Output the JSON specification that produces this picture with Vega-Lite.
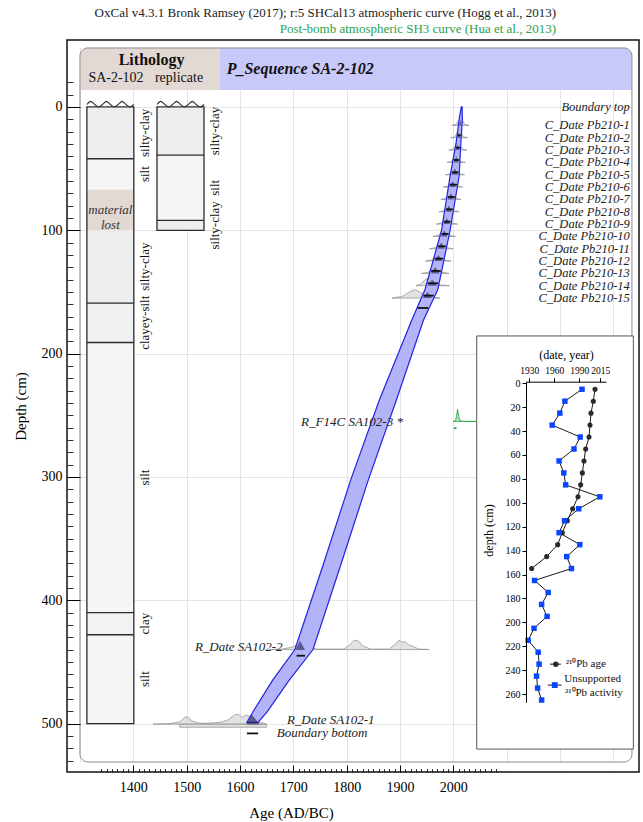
{
"$schema":"https://vega.github.io/schema/vega-lite/v6.json",
"width":572,"height":732,
"autosize":{"type":"none"},
"padding":{"left":67,"top":40,"right":4,"bottom":50},
"background":"white",
"title":{"text":"OxCal v4.3.1 Bronk Ramsey (2017); r:5 SHCal13 atmospheric curve (Hogg et al., 2013)","subtitle":"Post-bomb atmospheric SH3 curve (Hua et al., 2013)","anchor":"end","frame":"group","dx":-83,"offset":3,"font":"Liberation Serif","fontSize":13,"fontWeight":"normal","color":"#222222","subtitleFont":"Liberation Serif","subtitleFontSize":13,"subtitleColor":"#2ca24a","subtitlePadding":3},
"datasets":{
"litho":[
{"core":"SA-2-102","top":0,"bottom":42,"type":"silty-clay","contact":false},
{"core":"SA-2-102","top":42,"bottom":67,"type":"silt","contact":true},
{"core":"SA-2-102","top":67,"bottom":100,"type":"material lost","contact":false},
{"core":"SA-2-102","top":100,"bottom":159,"type":"silty-clay","contact":false},
{"core":"SA-2-102","top":159,"bottom":191,"type":"clayey-silt","contact":true},
{"core":"SA-2-102","top":191,"bottom":410,"type":"silt","contact":true},
{"core":"SA-2-102","top":410,"bottom":428,"type":"clay","contact":true},
{"core":"SA-2-102","top":428,"bottom":500,"type":"silt","contact":true},
{"core":"replicate","top":0,"bottom":39,"type":"silty-clay","contact":false},
{"core":"replicate","top":39,"bottom":92,"type":"silt","contact":true},
{"core":"replicate","top":92,"bottom":100,"type":"silty-clay","contact":true}
],
"wave":[
{"core":"SA-2-102","yr":1313,"d":-2},{"core":"SA-2-102","yr":1320.3,"d":-4.5},{"core":"SA-2-102","yr":1327.7,"d":-2},{"core":"SA-2-102","yr":1335,"d":0},{"core":"SA-2-102","yr":1342.3,"d":-2},{"core":"SA-2-102","yr":1349.7,"d":-4.5},{"core":"SA-2-102","yr":1357,"d":-2},{"core":"SA-2-102","yr":1364.3,"d":0},{"core":"SA-2-102","yr":1371.7,"d":-2},{"core":"SA-2-102","yr":1379,"d":-4.5},{"core":"SA-2-102","yr":1386.3,"d":-2},{"core":"SA-2-102","yr":1393.7,"d":0},{"core":"SA-2-102","yr":1401,"d":-2},
{"core":"replicate","yr":1444.4,"d":-2},{"core":"replicate","yr":1451.7,"d":-4.5},{"core":"replicate","yr":1459.1,"d":-2},{"core":"replicate","yr":1466.4,"d":0},{"core":"replicate","yr":1473.8,"d":-2},{"core":"replicate","yr":1481.1,"d":-4.5},{"core":"replicate","yr":1488.5,"d":-2},{"core":"replicate","yr":1495.8,"d":0},{"core":"replicate","yr":1503.2,"d":-2},{"core":"replicate","yr":1510.5,"d":-4.5},{"core":"replicate","yr":1517.9,"d":-2},{"core":"replicate","yr":1525.2,"d":0},{"core":"replicate","yr":1532.6,"d":-2}
],
"band":[
{"d":0,"lo":2015,"hi":2016.5},{"d":10,"lo":2011,"hi":2017},{"d":30,"lo":2005,"hi":2014},{"d":56,"lo":1994,"hi":2011},{"d":100,"lo":1978,"hi":1994},{"d":148,"lo":1947,"hi":1971},{"d":160,"lo":1935,"hi":1958},{"d":173,"lo":1922,"hi":1944},{"d":238,"lo":1861,"hi":1893},{"d":302,"lo":1808,"hi":1841},{"d":370,"lo":1757,"hi":1790},{"d":440,"lo":1703,"hi":1737},{"d":465,"lo":1661,"hi":1692},{"d":490,"lo":1625,"hi":1652},{"d":499,"lo":1613,"hi":1634}
],
"dists":[
{"id":"Pb210-1","kind":"prior","calib":"SHCal13","yr":1997.5,"top":15,"base":15},{"id":"Pb210-1","kind":"prior","calib":"SHCal13","yr":2005.5,"top":14.1,"base":15},{"id":"Pb210-1","kind":"prior","calib":"SHCal13","yr":2010.3,"top":10.5,"base":15},{"id":"Pb210-1","kind":"prior","calib":"SHCal13","yr":2013.5,"top":9,"base":15},{"id":"Pb210-1","kind":"prior","calib":"SHCal13","yr":2016.7,"top":10.5,"base":15},{"id":"Pb210-1","kind":"prior","calib":"SHCal13","yr":2021.5,"top":14.1,"base":15},{"id":"Pb210-1","kind":"prior","calib":"SHCal13","yr":2029.5,"top":15,"base":15},
{"id":"Pb210-2","kind":"prior","calib":"SHCal13","yr":1995,"top":25,"base":25},{"id":"Pb210-2","kind":"prior","calib":"SHCal13","yr":2003,"top":24.1,"base":25},{"id":"Pb210-2","kind":"prior","calib":"SHCal13","yr":2007.8,"top":20.5,"base":25},{"id":"Pb210-2","kind":"prior","calib":"SHCal13","yr":2011,"top":19,"base":25},{"id":"Pb210-2","kind":"prior","calib":"SHCal13","yr":2014.2,"top":20.5,"base":25},{"id":"Pb210-2","kind":"prior","calib":"SHCal13","yr":2019,"top":24.1,"base":25},{"id":"Pb210-2","kind":"prior","calib":"SHCal13","yr":2027,"top":25,"base":25},
{"id":"Pb210-3","kind":"prior","calib":"SHCal13","yr":1991.5,"top":35,"base":35},{"id":"Pb210-3","kind":"prior","calib":"SHCal13","yr":2000,"top":34.1,"base":35},{"id":"Pb210-3","kind":"prior","calib":"SHCal13","yr":2005.1,"top":30.5,"base":35},{"id":"Pb210-3","kind":"prior","calib":"SHCal13","yr":2008.5,"top":29,"base":35},{"id":"Pb210-3","kind":"prior","calib":"SHCal13","yr":2011.9,"top":30.5,"base":35},{"id":"Pb210-3","kind":"prior","calib":"SHCal13","yr":2017,"top":34.1,"base":35},{"id":"Pb210-3","kind":"prior","calib":"SHCal13","yr":2025.5,"top":35,"base":35},
{"id":"Pb210-4","kind":"prior","calib":"SHCal13","yr":1988.5,"top":45,"base":45},{"id":"Pb210-4","kind":"prior","calib":"SHCal13","yr":1997,"top":44.1,"base":45},{"id":"Pb210-4","kind":"prior","calib":"SHCal13","yr":2002.1,"top":40.5,"base":45},{"id":"Pb210-4","kind":"prior","calib":"SHCal13","yr":2005.5,"top":39,"base":45},{"id":"Pb210-4","kind":"prior","calib":"SHCal13","yr":2008.9,"top":40.5,"base":45},{"id":"Pb210-4","kind":"prior","calib":"SHCal13","yr":2014,"top":44.1,"base":45},{"id":"Pb210-4","kind":"prior","calib":"SHCal13","yr":2022.5,"top":45,"base":45},
{"id":"Pb210-5","kind":"prior","calib":"SHCal13","yr":1985,"top":55,"base":55},{"id":"Pb210-5","kind":"prior","calib":"SHCal13","yr":1994,"top":54.1,"base":55},{"id":"Pb210-5","kind":"prior","calib":"SHCal13","yr":1999.4,"top":50.5,"base":55},{"id":"Pb210-5","kind":"prior","calib":"SHCal13","yr":2003,"top":49,"base":55},{"id":"Pb210-5","kind":"prior","calib":"SHCal13","yr":2006.6,"top":50.5,"base":55},{"id":"Pb210-5","kind":"prior","calib":"SHCal13","yr":2012,"top":54.1,"base":55},{"id":"Pb210-5","kind":"prior","calib":"SHCal13","yr":2021,"top":55,"base":55},
{"id":"Pb210-6","kind":"prior","calib":"SHCal13","yr":1981.5,"top":65,"base":65},{"id":"Pb210-6","kind":"prior","calib":"SHCal13","yr":1990.5,"top":64.1,"base":65},{"id":"Pb210-6","kind":"prior","calib":"SHCal13","yr":1995.9,"top":60.5,"base":65},{"id":"Pb210-6","kind":"prior","calib":"SHCal13","yr":1999.5,"top":59,"base":65},{"id":"Pb210-6","kind":"prior","calib":"SHCal13","yr":2003.1,"top":60.5,"base":65},{"id":"Pb210-6","kind":"prior","calib":"SHCal13","yr":2008.5,"top":64.1,"base":65},{"id":"Pb210-6","kind":"prior","calib":"SHCal13","yr":2017.5,"top":65,"base":65},
{"id":"Pb210-7","kind":"prior","calib":"SHCal13","yr":1976.5,"top":75,"base":75},{"id":"Pb210-7","kind":"prior","calib":"SHCal13","yr":1986,"top":74.1,"base":75},{"id":"Pb210-7","kind":"prior","calib":"SHCal13","yr":1991.7,"top":70.5,"base":75},{"id":"Pb210-7","kind":"prior","calib":"SHCal13","yr":1995.5,"top":69,"base":75},{"id":"Pb210-7","kind":"prior","calib":"SHCal13","yr":1999.3,"top":70.5,"base":75},{"id":"Pb210-7","kind":"prior","calib":"SHCal13","yr":2005,"top":74.1,"base":75},{"id":"Pb210-7","kind":"prior","calib":"SHCal13","yr":2014.5,"top":75,"base":75},
{"id":"Pb210-8","kind":"prior","calib":"SHCal13","yr":1973,"top":85,"base":85},{"id":"Pb210-8","kind":"prior","calib":"SHCal13","yr":1982.5,"top":84.1,"base":85},{"id":"Pb210-8","kind":"prior","calib":"SHCal13","yr":1988.2,"top":80.5,"base":85},{"id":"Pb210-8","kind":"prior","calib":"SHCal13","yr":1992,"top":79,"base":85},{"id":"Pb210-8","kind":"prior","calib":"SHCal13","yr":1995.8,"top":80.5,"base":85},{"id":"Pb210-8","kind":"prior","calib":"SHCal13","yr":2001.5,"top":84.1,"base":85},{"id":"Pb210-8","kind":"prior","calib":"SHCal13","yr":2011,"top":85,"base":85},
{"id":"Pb210-9","kind":"prior","calib":"SHCal13","yr":1968,"top":95,"base":95},{"id":"Pb210-9","kind":"prior","calib":"SHCal13","yr":1978,"top":94.1,"base":95},{"id":"Pb210-9","kind":"prior","calib":"SHCal13","yr":1984,"top":90.5,"base":95},{"id":"Pb210-9","kind":"prior","calib":"SHCal13","yr":1988,"top":89,"base":95},{"id":"Pb210-9","kind":"prior","calib":"SHCal13","yr":1992,"top":90.5,"base":95},{"id":"Pb210-9","kind":"prior","calib":"SHCal13","yr":1998,"top":94.1,"base":95},{"id":"Pb210-9","kind":"prior","calib":"SHCal13","yr":2008,"top":95,"base":95},
{"id":"Pb210-10","kind":"prior","calib":"SHCal13","yr":1962,"top":105,"base":105},{"id":"Pb210-10","kind":"prior","calib":"SHCal13","yr":1972.5,"top":104.1,"base":105},{"id":"Pb210-10","kind":"prior","calib":"SHCal13","yr":1978.8,"top":100.5,"base":105},{"id":"Pb210-10","kind":"prior","calib":"SHCal13","yr":1983,"top":99,"base":105},{"id":"Pb210-10","kind":"prior","calib":"SHCal13","yr":1987.2,"top":100.5,"base":105},{"id":"Pb210-10","kind":"prior","calib":"SHCal13","yr":1993.5,"top":104.1,"base":105},{"id":"Pb210-10","kind":"prior","calib":"SHCal13","yr":2004,"top":105,"base":105},
{"id":"Pb210-11","kind":"prior","calib":"SHCal13","yr":1955.5,"top":115,"base":115},{"id":"Pb210-11","kind":"prior","calib":"SHCal13","yr":1966.5,"top":114.1,"base":115},{"id":"Pb210-11","kind":"prior","calib":"SHCal13","yr":1973.1,"top":110.5,"base":115},{"id":"Pb210-11","kind":"prior","calib":"SHCal13","yr":1977.5,"top":109,"base":115},{"id":"Pb210-11","kind":"prior","calib":"SHCal13","yr":1981.9,"top":110.5,"base":115},{"id":"Pb210-11","kind":"prior","calib":"SHCal13","yr":1988.5,"top":114.1,"base":115},{"id":"Pb210-11","kind":"prior","calib":"SHCal13","yr":1999.5,"top":115,"base":115},
{"id":"Pb210-12","kind":"prior","calib":"SHCal13","yr":1948,"top":125,"base":125},{"id":"Pb210-12","kind":"prior","calib":"SHCal13","yr":1960,"top":124.1,"base":125},{"id":"Pb210-12","kind":"prior","calib":"SHCal13","yr":1967.2,"top":120.5,"base":125},{"id":"Pb210-12","kind":"prior","calib":"SHCal13","yr":1972,"top":119,"base":125},{"id":"Pb210-12","kind":"prior","calib":"SHCal13","yr":1976.8,"top":120.5,"base":125},{"id":"Pb210-12","kind":"prior","calib":"SHCal13","yr":1984,"top":124.1,"base":125},{"id":"Pb210-12","kind":"prior","calib":"SHCal13","yr":1996,"top":125,"base":125},
{"id":"Pb210-13","kind":"prior","calib":"SHCal13","yr":1940,"top":135,"base":135},{"id":"Pb210-13","kind":"prior","calib":"SHCal13","yr":1953,"top":134.1,"base":135},{"id":"Pb210-13","kind":"prior","calib":"SHCal13","yr":1960.8,"top":130.5,"base":135},{"id":"Pb210-13","kind":"prior","calib":"SHCal13","yr":1966,"top":129,"base":135},{"id":"Pb210-13","kind":"prior","calib":"SHCal13","yr":1971.2,"top":130.5,"base":135},{"id":"Pb210-13","kind":"prior","calib":"SHCal13","yr":1979,"top":134.1,"base":135},{"id":"Pb210-13","kind":"prior","calib":"SHCal13","yr":1992,"top":135,"base":135},
{"id":"Pb210-14","kind":"prior","calib":"SHCal13","yr":1930,"top":145,"base":145},{"id":"Pb210-14","kind":"prior","calib":"SHCal13","yr":1940,"top":143.5,"base":145},{"id":"Pb210-14","kind":"prior","calib":"SHCal13","yr":1947,"top":140,"base":145},{"id":"Pb210-14","kind":"prior","calib":"SHCal13","yr":1952,"top":139,"base":145},{"id":"Pb210-14","kind":"prior","calib":"SHCal13","yr":1958,"top":141,"base":145},{"id":"Pb210-14","kind":"prior","calib":"SHCal13","yr":1968,"top":144,"base":145},{"id":"Pb210-14","kind":"prior","calib":"SHCal13","yr":1993,"top":145,"base":145},
{"id":"Pb210-15","kind":"prior","calib":"SHCal13","yr":1885,"top":155,"base":155},{"id":"Pb210-15","kind":"prior","calib":"SHCal13","yr":1905,"top":153.5,"base":155},{"id":"Pb210-15","kind":"prior","calib":"SHCal13","yr":1918,"top":150,"base":155},{"id":"Pb210-15","kind":"prior","calib":"SHCal13","yr":1927,"top":148,"base":155},{"id":"Pb210-15","kind":"prior","calib":"SHCal13","yr":1937,"top":150,"base":155},{"id":"Pb210-15","kind":"prior","calib":"SHCal13","yr":1950,"top":153.5,"base":155},{"id":"Pb210-15","kind":"prior","calib":"SHCal13","yr":1975,"top":155,"base":155},
{"id":"SA102-2","kind":"prior","calib":"SHCal13","yr":1655,"top":440,"base":440},{"id":"SA102-2","kind":"prior","calib":"SHCal13","yr":1680,"top":439.6,"base":440},{"id":"SA102-2","kind":"prior","calib":"SHCal13","yr":1698,"top":438,"base":440},{"id":"SA102-2","kind":"prior","calib":"SHCal13","yr":1712,"top":435,"base":440},{"id":"SA102-2","kind":"prior","calib":"SHCal13","yr":1726,"top":438,"base":440},{"id":"SA102-2","kind":"prior","calib":"SHCal13","yr":1745,"top":439.6,"base":440},{"id":"SA102-2","kind":"prior","calib":"SHCal13","yr":1795,"top":439.6,"base":440},{"id":"SA102-2","kind":"prior","calib":"SHCal13","yr":1806,"top":436,"base":440},{"id":"SA102-2","kind":"prior","calib":"SHCal13","yr":1814,"top":432.5,"base":440},{"id":"SA102-2","kind":"prior","calib":"SHCal13","yr":1822,"top":433,"base":440},{"id":"SA102-2","kind":"prior","calib":"SHCal13","yr":1830,"top":437,"base":440},{"id":"SA102-2","kind":"prior","calib":"SHCal13","yr":1845,"top":439.6,"base":440},{"id":"SA102-2","kind":"prior","calib":"SHCal13","yr":1880,"top":439.6,"base":440},{"id":"SA102-2","kind":"prior","calib":"SHCal13","yr":1890,"top":436,"base":440},{"id":"SA102-2","kind":"prior","calib":"SHCal13","yr":1898,"top":432.5,"base":440},{"id":"SA102-2","kind":"prior","calib":"SHCal13","yr":1904,"top":434,"base":440},{"id":"SA102-2","kind":"prior","calib":"SHCal13","yr":1909,"top":433.5,"base":440},{"id":"SA102-2","kind":"prior","calib":"SHCal13","yr":1916,"top":436,"base":440},{"id":"SA102-2","kind":"prior","calib":"SHCal13","yr":1925,"top":437.5,"base":440},{"id":"SA102-2","kind":"prior","calib":"SHCal13","yr":1935,"top":439.6,"base":440},{"id":"SA102-2","kind":"prior","calib":"SHCal13","yr":1955,"top":440,"base":440},
{"id":"SA102-1","kind":"prior","calib":"SHCal13","yr":1437,"top":500.5,"base":500.5},{"id":"SA102-1","kind":"prior","calib":"SHCal13","yr":1470,"top":500,"base":500.5},{"id":"SA102-1","kind":"prior","calib":"SHCal13","yr":1488,"top":498.5,"base":500.5},{"id":"SA102-1","kind":"prior","calib":"SHCal13","yr":1496,"top":495,"base":500.5},{"id":"SA102-1","kind":"prior","calib":"SHCal13","yr":1502,"top":494.5,"base":500.5},{"id":"SA102-1","kind":"prior","calib":"SHCal13","yr":1510,"top":498,"base":500.5},{"id":"SA102-1","kind":"prior","calib":"SHCal13","yr":1525,"top":499.8,"base":500.5},{"id":"SA102-1","kind":"prior","calib":"SHCal13","yr":1550,"top":499.5,"base":500.5},{"id":"SA102-1","kind":"prior","calib":"SHCal13","yr":1565,"top":498.8,"base":500.5},{"id":"SA102-1","kind":"prior","calib":"SHCal13","yr":1578,"top":497,"base":500.5},{"id":"SA102-1","kind":"prior","calib":"SHCal13","yr":1590,"top":493,"base":500.5},{"id":"SA102-1","kind":"prior","calib":"SHCal13","yr":1597,"top":492.5,"base":500.5},{"id":"SA102-1","kind":"prior","calib":"SHCal13","yr":1605,"top":495,"base":500.5},{"id":"SA102-1","kind":"prior","calib":"SHCal13","yr":1612,"top":493,"base":500.5},{"id":"SA102-1","kind":"prior","calib":"SHCal13","yr":1622,"top":495,"base":500.5},{"id":"SA102-1","kind":"prior","calib":"SHCal13","yr":1635,"top":498.5,"base":500.5},{"id":"SA102-1","kind":"prior","calib":"SHCal13","yr":1650,"top":500.5,"base":500.5},
{"id":"Bottom","kind":"prior","calib":"SHCal13","yr":1487,"top":500.5,"base":503},{"id":"Bottom","kind":"prior","calib":"SHCal13","yr":1650,"top":500.5,"base":503},
{"id":"SA102-3","kind":"prior","calib":"SH3","yr":2000,"top":255,"base":255},{"id":"SA102-3","kind":"prior","calib":"SH3","yr":2004,"top":254.6,"base":255},{"id":"SA102-3","kind":"prior","calib":"SH3","yr":2006,"top":251,"base":255},{"id":"SA102-3","kind":"prior","calib":"SH3","yr":2008,"top":245,"base":255},{"id":"SA102-3","kind":"prior","calib":"SH3","yr":2010,"top":251,"base":255},{"id":"SA102-3","kind":"prior","calib":"SH3","yr":2013,"top":254.6,"base":255},{"id":"SA102-3","kind":"prior","calib":"SH3","yr":2020,"top":255,"base":255},{"id":"SA102-3","kind":"prior","calib":"SH3","yr":2088,"top":255,"base":255},
{"id":"Pb210-1","kind":"post","calib":"SHCal13","yr":2011,"top":15,"base":15},{"id":"Pb210-1","kind":"post","calib":"SHCal13","yr":2013,"top":10,"base":15},{"id":"Pb210-1","kind":"post","calib":"SHCal13","yr":2015,"top":15,"base":15},
{"id":"Pb210-2","kind":"post","calib":"SHCal13","yr":2008,"top":25,"base":25},{"id":"Pb210-2","kind":"post","calib":"SHCal13","yr":2010.5,"top":20,"base":25},{"id":"Pb210-2","kind":"post","calib":"SHCal13","yr":2013,"top":25,"base":25},
{"id":"Pb210-3","kind":"post","calib":"SHCal13","yr":2005,"top":35,"base":35},{"id":"Pb210-3","kind":"post","calib":"SHCal13","yr":2008,"top":30,"base":35},{"id":"Pb210-3","kind":"post","calib":"SHCal13","yr":2011,"top":35,"base":35},
{"id":"Pb210-4","kind":"post","calib":"SHCal13","yr":2001,"top":45,"base":45},{"id":"Pb210-4","kind":"post","calib":"SHCal13","yr":2005.5,"top":40,"base":45},{"id":"Pb210-4","kind":"post","calib":"SHCal13","yr":2010,"top":45,"base":45},
{"id":"Pb210-5","kind":"post","calib":"SHCal13","yr":1997,"top":55,"base":55},{"id":"Pb210-5","kind":"post","calib":"SHCal13","yr":2003,"top":50,"base":55},{"id":"Pb210-5","kind":"post","calib":"SHCal13","yr":2009,"top":55,"base":55},
{"id":"Pb210-6","kind":"post","calib":"SHCal13","yr":1993,"top":65,"base":65},{"id":"Pb210-6","kind":"post","calib":"SHCal13","yr":1999,"top":60,"base":65},{"id":"Pb210-6","kind":"post","calib":"SHCal13","yr":2005,"top":65,"base":65},
{"id":"Pb210-7","kind":"post","calib":"SHCal13","yr":1989.5,"top":75,"base":75},{"id":"Pb210-7","kind":"post","calib":"SHCal13","yr":1995.5,"top":70,"base":75},{"id":"Pb210-7","kind":"post","calib":"SHCal13","yr":2001.5,"top":75,"base":75},
{"id":"Pb210-8","kind":"post","calib":"SHCal13","yr":1986,"top":85,"base":85},{"id":"Pb210-8","kind":"post","calib":"SHCal13","yr":1991.5,"top":80,"base":85},{"id":"Pb210-8","kind":"post","calib":"SHCal13","yr":1997.5,"top":85,"base":85},
{"id":"Pb210-9","kind":"post","calib":"SHCal13","yr":1982,"top":95,"base":95},{"id":"Pb210-9","kind":"post","calib":"SHCal13","yr":1988,"top":90,"base":95},{"id":"Pb210-9","kind":"post","calib":"SHCal13","yr":1993.5,"top":95,"base":95},
{"id":"Pb210-10","kind":"post","calib":"SHCal13","yr":1977,"top":105,"base":105},{"id":"Pb210-10","kind":"post","calib":"SHCal13","yr":1983,"top":100,"base":105},{"id":"Pb210-10","kind":"post","calib":"SHCal13","yr":1989,"top":105,"base":105},
{"id":"Pb210-11","kind":"post","calib":"SHCal13","yr":1971,"top":115,"base":115},{"id":"Pb210-11","kind":"post","calib":"SHCal13","yr":1977.5,"top":110,"base":115},{"id":"Pb210-11","kind":"post","calib":"SHCal13","yr":1984,"top":115,"base":115},
{"id":"Pb210-12","kind":"post","calib":"SHCal13","yr":1964.5,"top":125,"base":125},{"id":"Pb210-12","kind":"post","calib":"SHCal13","yr":1972,"top":120,"base":125},{"id":"Pb210-12","kind":"post","calib":"SHCal13","yr":1979.5,"top":125,"base":125},
{"id":"Pb210-13","kind":"post","calib":"SHCal13","yr":1958,"top":135,"base":135},{"id":"Pb210-13","kind":"post","calib":"SHCal13","yr":1966,"top":130,"base":135},{"id":"Pb210-13","kind":"post","calib":"SHCal13","yr":1974.5,"top":135,"base":135},
{"id":"Pb210-14","kind":"post","calib":"SHCal13","yr":1952,"top":145,"base":145},{"id":"Pb210-14","kind":"post","calib":"SHCal13","yr":1960.5,"top":140,"base":145},{"id":"Pb210-14","kind":"post","calib":"SHCal13","yr":1969.5,"top":145,"base":145},
{"id":"Pb210-15","kind":"post","calib":"SHCal13","yr":1943,"top":155,"base":155},{"id":"Pb210-15","kind":"post","calib":"SHCal13","yr":1951.5,"top":150,"base":155},{"id":"Pb210-15","kind":"post","calib":"SHCal13","yr":1960.5,"top":155,"base":155},
{"id":"SA102-2","kind":"post","calib":"SHCal13","yr":1704,"top":440.4,"base":440.4},{"id":"SA102-2","kind":"post","calib":"SHCal13","yr":1712.5,"top":432.8,"base":440.4},{"id":"SA102-2","kind":"post","calib":"SHCal13","yr":1722,"top":440.4,"base":440.4},
{"id":"SA102-1","kind":"post","calib":"SHCal13","yr":1612,"top":500.8,"base":500.8},{"id":"SA102-1","kind":"post","calib":"SHCal13","yr":1622,"top":492.6,"base":500.8},{"id":"SA102-1","kind":"post","calib":"SHCal13","yr":1637,"top":500.8,"base":500.8}
],
"brackets":[
{"id":"Pb210-1","calib":"SHCal13","d":23,"lo":2008,"hi":2014},{"id":"Pb210-2","calib":"SHCal13","d":33,"lo":2005,"hi":2012.5},{"id":"Pb210-3","calib":"SHCal13","d":43,"lo":2001,"hi":2011},{"id":"Pb210-4","calib":"SHCal13","d":53,"lo":1997,"hi":2010},{"id":"Pb210-5","calib":"SHCal13","d":63,"lo":1993,"hi":2007},{"id":"Pb210-6","calib":"SHCal13","d":73,"lo":1989.5,"hi":2003},{"id":"Pb210-7","calib":"SHCal13","d":83,"lo":1986,"hi":1999},{"id":"Pb210-8","calib":"SHCal13","d":93,"lo":1982,"hi":1995},{"id":"Pb210-9","calib":"SHCal13","d":103,"lo":1978,"hi":1991},{"id":"Pb210-10","calib":"SHCal13","d":113,"lo":1971.5,"hi":1986},{"id":"Pb210-11","calib":"SHCal13","d":123,"lo":1965,"hi":1981},{"id":"Pb210-12","calib":"SHCal13","d":133,"lo":1958.5,"hi":1976.5},{"id":"Pb210-13","calib":"SHCal13","d":143,"lo":1952,"hi":1971.5},{"id":"Pb210-14","calib":"SHCal13","d":153,"lo":1944,"hi":1963.5},{"id":"Pb210-15","calib":"SHCal13","d":163,"lo":1933,"hi":1953},
{"id":"SA102-2","calib":"SHCal13","d":445,"lo":1706,"hi":1722},{"id":"Bottom","calib":"SHCal13","d":508,"lo":1613,"hi":1634},
{"id":"SA102-3a","calib":"SH3","d":260.5,"lo":2001,"hi":2006},{"id":"SA102-3b","calib":"SH3","d":260.5,"lo":2067,"hi":2072}
],
"labels":[
{"label":"Boundary top","d":0},{"label":"C_Date Pb210-1","d":15},{"label":"C_Date Pb210-2","d":25},{"label":"C_Date Pb210-3","d":35},{"label":"C_Date Pb210-4","d":45},{"label":"C_Date Pb210-5","d":55},{"label":"C_Date Pb210-6","d":65},{"label":"C_Date Pb210-7","d":75},{"label":"C_Date Pb210-8","d":85},{"label":"C_Date Pb210-9","d":95},{"label":"C_Date Pb210-10","d":105},{"label":"C_Date Pb210-11","d":115},{"label":"C_Date Pb210-12","d":125},{"label":"C_Date Pb210-13","d":135},{"label":"C_Date Pb210-14","d":145},{"label":"C_Date Pb210-15","d":155}
],
"pb":[
{"d":5,"age":2008.8,"act":13.7},{"d":15,"age":2006.8,"act":9.0},{"d":25,"age":2004.0,"act":7.6},{"d":35,"age":2002.8,"act":5.5},{"d":45,"age":2001.6,"act":13.2},{"d":55,"age":1997.6,"act":11.5},{"d":65,"age":1995.6,"act":7.4},{"d":75,"age":1993.6,"act":8.7},{"d":85,"age":1991.6,"act":9.2},{"d":95,"age":1988.4,"act":18.6},{"d":105,"age":1982.0,"act":12.8},{"d":115,"age":1975.6,"act":8.9},{"d":125,"age":1969.6,"act":7.4},{"d":135,"age":1964.0,"act":13.1},{"d":145,"age":1950.8,"act":9.5},{"d":155,"age":1932.8,"act":10.8},
{"d":165,"age":null,"act":0.65},{"d":175,"age":null,"act":4.4},{"d":185,"age":null,"act":2.6},{"d":195,"age":null,"act":4.1},{"d":205,"age":null,"act":0.5},{"d":215,"age":null,"act":-1.1},{"d":225,"age":null,"act":1.65},{"d":235,"age":null,"act":1.9},{"d":245,"age":null,"act":1.2},{"d":255,"age":null,"act":1.5},{"d":265,"age":null,"act":2.6}
]
},
"layer":[
{
"layer":[
{"data":{"values":[{}]},"mark":{"type":"rect","fill":"#e2d9d4","cornerRadiusTopLeft":8},"encoding":{"x":{"datum":1300,"axis":null},"x2":{"datum":1562.6},"y":{"datum":-47.85,"axis":null},"y2":{"datum":-13.8}}},
{"data":{"values":[{}]},"mark":{"type":"rect","fill":"#c9c9f9","cornerRadiusTopRight":8},"encoding":{"x":{"datum":1562.6,"axis":null},"x2":{"datum":2335},"y":{"datum":-47.85,"axis":null},"y2":{"datum":-13.8}}},
{"data":{"values":[{}]},"mark":{"type":"text","font":"Liberation Serif","fontSize":16,"fontWeight":"bold","color":"#111111"},"encoding":{"x":{"datum":1434.3,"axis":null},"y":{"datum":-38.1,"axis":null},"text":{"value":"Lithology"}}},
{"data":{"values":[{}]},"mark":{"type":"text","font":"Liberation Serif","fontSize":14,"color":"#111111"},"encoding":{"x":{"datum":1367.6,"axis":null},"y":{"datum":-23.5,"axis":null},"text":{"value":"SA-2-102"}}},
{"data":{"values":[{}]},"mark":{"type":"text","font":"Liberation Serif","fontSize":14,"color":"#111111"},"encoding":{"x":{"datum":1485.7,"axis":null},"y":{"datum":-23.5,"axis":null},"text":{"value":"replicate"}}},
{"data":{"values":[{}]},"mark":{"type":"text","font":"Liberation Serif","fontSize":16,"fontWeight":"bold","fontStyle":"italic","align":"left","color":"#111111"},"encoding":{"x":{"datum":1575,"axis":null},"y":{"datum":-30.8,"axis":null},"text":{"value":"P_Sequence SA-2-102"}}},
{"data":{"name":"litho"},"transform":[{"filter":"datum.core==='SA-2-102'"}],"mark":{"type":"rect"},"encoding":{"x":{"datum":1313,"axis":null},"x2":{"datum":1401},"y":{"field":"top","type":"quantitative","axis":null},"y2":{"field":"bottom"},"fill":{"field":"type","type":"nominal","scale":{"domain":["silty-clay","silt","clayey-silt","clay","material lost"],"range":["#ededed","#f5f5f5","#f0f0f0","#f2f2f2","#e2d9d4"]},"legend":null}}},
{"data":{"name":"litho"},"transform":[{"filter":"datum.core==='replicate'"}],"mark":{"type":"rect"},"encoding":{"x":{"datum":1444.4,"axis":null},"x2":{"datum":1532.6},"y":{"field":"top","type":"quantitative","axis":null},"y2":{"field":"bottom"},"fill":{"field":"type","type":"nominal","legend":null}}},
{"data":{"name":"litho"},"transform":[{"filter":"datum.type==='material lost'"},{"fold":["top","bottom"],"as":["edge","depth"]}],"mark":{"type":"text","font":"Liberation Serif","fontSize":13,"fontStyle":"italic","color":"#333333","lineHeight":15},"encoding":{"x":{"datum":1357,"axis":null},"y":{"aggregate":"mean","field":"depth","type":"quantitative","axis":null},"text":{"value":["material","lost"]}}},
{"data":{"name":"litho"},"transform":[{"filter":"datum.core==='SA-2-102' && datum.contact"}],"mark":{"type":"rule","color":"#2b2b2b","strokeWidth":1.3},"encoding":{"x":{"datum":1313,"axis":null},"x2":{"datum":1401},"y":{"field":"top","type":"quantitative","axis":null}}},
{"data":{"name":"litho"},"transform":[{"filter":"datum.core==='replicate' && datum.contact"}],"mark":{"type":"rule","color":"#2b2b2b","strokeWidth":1.3},"encoding":{"x":{"datum":1444.4,"axis":null},"x2":{"datum":1532.6},"y":{"field":"top","type":"quantitative","axis":null}}},
{"data":{"name":"litho"},"transform":[{"filter":"datum.core==='SA-2-102'"},{"aggregate":[{"op":"min","field":"top","as":"t"},{"op":"max","field":"bottom","as":"b"}]}],"mark":{"type":"rect","fill":"transparent","stroke":"#2b2b2b","strokeWidth":1.3},"encoding":{"x":{"datum":1313,"axis":null},"x2":{"datum":1401},"y":{"field":"t","type":"quantitative","axis":null},"y2":{"field":"b"}}},
{"data":{"name":"litho"},"transform":[{"filter":"datum.core==='replicate'"},{"aggregate":[{"op":"min","field":"top","as":"t"},{"op":"max","field":"bottom","as":"b"}]}],"mark":{"type":"rect","fill":"transparent","stroke":"#2b2b2b","strokeWidth":1.3},"encoding":{"x":{"datum":1444.4,"axis":null},"x2":{"datum":1532.6},"y":{"field":"t","type":"quantitative","axis":null},"y2":{"field":"b"}}},
{"data":{"name":"litho"},"transform":[{"filter":"datum.core==='SA-2-102' && datum.type!=='material lost'"},{"fold":["top","bottom"],"as":["edge","depth"]}],"mark":{"type":"text","angle":270,"font":"Liberation Serif","fontSize":13,"color":"#111111"},"encoding":{"x":{"datum":1422,"axis":null},"y":{"aggregate":"mean","field":"depth","type":"quantitative","axis":null},"text":{"field":"type"},"detail":{"field":"top"}}},
{"data":{"name":"litho"},"transform":[{"filter":"datum.core==='replicate'"},{"fold":["top","bottom"],"as":["edge","depth"]}],"mark":{"type":"text","angle":270,"font":"Liberation Serif","fontSize":13,"color":"#111111"},"encoding":{"x":{"datum":1553.4,"axis":null},"y":{"aggregate":"mean","field":"depth","type":"quantitative","axis":null},"text":{"field":"type"},"detail":{"field":"top"}}},
{"data":{"name":"wave"},"mark":{"type":"line","color":"#333333","strokeWidth":1.1,"interpolate":"monotone"},"encoding":{"x":{"field":"yr","type":"quantitative","axis":null},"y":{"field":"d","type":"quantitative","axis":null},"detail":{"field":"core"}}},
{"data":{"name":"dists"},"transform":[{"filter":"datum.kind==='prior' && datum.calib==='SHCal13'"}],"mark":{"type":"area","fill":"#d6d6d6","fillOpacity":0.7,"stroke":"#8c8c8c","strokeWidth":0.7},"encoding":{"x":{"field":"yr","type":"quantitative","scale":{"domain":[1275.7,2348.2],"nice":false,"zero":false},"axis":{"orient":"bottom","values":[1400,1500,1600,1700,1800,1900,2000],"ticks":true,"tickSize":-7,"tickWidth":1,"labels":false,"domain":false,"grid":false,"title":null,"zindex":2}},"y":{"field":"top","type":"quantitative","scale":{"domain":[-54.3,539.3],"nice":false,"zero":false,"reverse":true},"axis":{"orient":"left","values":[0,100,200,300,400,500],"ticks":true,"tickSize":-13,"tickWidth":1,"labels":false,"domain":false,"grid":false,"title":null,"zindex":2}},"y2":{"field":"base"},"detail":{"field":"id"}}},
{"data":{"name":"dists"},"transform":[{"filter":"datum.calib==='SH3'"}],"mark":{"type":"area","fill":"#7fd08f","fillOpacity":0.6,"stroke":"#2aa84a","strokeWidth":0.9},"encoding":{"x":{"field":"yr","type":"quantitative","axis":null},"y":{"field":"top","type":"quantitative","axis":null},"y2":{"field":"base"},"detail":{"field":"id"}}},
{"data":{"name":"band"},"mark":{"type":"area","orient":"horizontal","fill":"#b3b3f8","stroke":"#2323e0","strokeWidth":1.2},"encoding":{"y":{"field":"d","type":"quantitative","scale":{"domain":[-54.3,539.3],"nice":false,"zero":false,"reverse":true},"axis":{"orient":"left","values":[0,100,200,300,400,500],"format":"d","grid":true,"gridColor":"#e4e4e4","gridWidth":1,"ticks":false,"domain":false,"labelFontSize":14,"labelPadding":5,"title":"Depth (cm)","titleFontSize":15,"titleX":-47,"titleBaseline":"middle","zindex":0}},"x":{"field":"lo","type":"quantitative","scale":{"domain":[1275.7,2348.2],"nice":false,"zero":false},"axis":{"orient":"bottom","values":[1300,1400,1500,1600,1700,1800,1900,2000,2100,2200,2300],"format":"d","labelExpr":"datum.value>=1400 && datum.value<=2000 ? datum.label : ''","grid":true,"gridColor":"#e4e4e4","gridWidth":1,"ticks":false,"domain":false,"labelFontSize":14,"labelPadding":8,"title":"Age (AD/BC)","titleFontSize":15,"titleX":224,"titleY":40,"titleBaseline":"middle","zindex":0}},"x2":{"field":"hi"}}},
{"data":{"name":"dists"},"transform":[{"filter":"datum.kind==='post'"}],"mark":{"type":"area","fill":"#1e1e48","fillOpacity":0.6},"encoding":{"x":{"field":"yr","type":"quantitative","axis":null},"y":{"field":"top","type":"quantitative","axis":null},"y2":{"field":"base"},"detail":{"field":"id"}}},
{"data":{"name":"brackets"},"mark":{"type":"rule","strokeWidth":1.8},"encoding":{"x":{"field":"lo","type":"quantitative","scale":{"domain":[1275.7,2348.2],"nice":false,"zero":false},"axis":{"orient":"bottom","values":[1340,1350,1360,1370,1380,1390,1400,1410,1420,1430,1440,1450,1460,1470,1480,1490,1500,1510,1520,1530,1540,1550,1560,1570,1580,1590,1600,1610,1620,1630,1640,1650,1660,1670,1680,1690,1700,1710,1720,1730,1740,1750,1760,1770,1780,1790,1800,1810,1820,1830,1840,1850,1860,1870,1880,1890,1900,1910,1920,1930,1940,1950,1960,1970,1980,1990,2000,2010,2020,2030,2040,2050,2060,2070,2080],"ticks":true,"tickSize":-3.5,"tickWidth":0.8,"labels":false,"domain":false,"grid":false,"title":null,"zindex":2}},"x2":{"field":"hi"},"y":{"field":"d","type":"quantitative","scale":{"domain":[-54.3,539.3],"nice":false,"zero":false,"reverse":true},"axis":{"orient":"left","values":[-20,-10,0,10,20,30,40,50,60,70,80,90,100,110,120,130,140,150,160,170,180,190,200,210,220,230,240,250,260,270,280,290,300,310,320,330,340,350,360,370,380,390,400,410,420,430,440,450,460,470,480,490,500,510,520,530],"ticks":true,"tickSize":-6,"tickWidth":0.8,"labels":false,"domain":false,"grid":false,"title":null,"zindex":2}},"stroke":{"field":"calib","type":"nominal","scale":{"domain":["SHCal13","SH3"],"range":["#111111","#2aa84a"]},"legend":null}}},
{"data":{"name":"labels"},"mark":{"type":"text","align":"right","font":"Liberation Serif","fontSize":12.5,"fontStyle":"italic","color":"#222222"},"encoding":{"x":{"datum":2331,"axis":null},"y":{"field":"d","type":"quantitative","axis":null},"text":{"field":"label"}}},
{"data":{"values":[{}]},"mark":{"type":"text","align":"right","font":"Liberation Serif","fontSize":13,"fontStyle":"italic","color":"#222222"},"encoding":{"x":{"datum":1680,"axis":null},"y":{"datum":438,"axis":null},"text":{"value":"R_Date SA102-2"}}},
{"data":{"values":[{}]},"mark":{"type":"text","align":"left","font":"Liberation Serif","fontSize":13,"fontStyle":"italic","color":"#222222"},"encoding":{"x":{"datum":1688,"axis":null},"y":{"datum":497,"axis":null},"text":{"value":"R_Date SA102-1"}}},
{"data":{"values":[{}]},"mark":{"type":"text","align":"left","font":"Liberation Serif","fontSize":13,"fontStyle":"italic","color":"#222222"},"encoding":{"x":{"datum":1669,"axis":null},"y":{"datum":507.7,"axis":null},"text":{"value":"Boundary bottom"}}},
{"data":{"values":[{}]},"mark":{"type":"text","align":"right","font":"Liberation Serif","fontSize":13,"fontStyle":"italic","color":"#222222"},"encoding":{"x":{"datum":1905.6,"axis":null},"y":{"datum":255.5,"axis":null},"text":{"value":"R_F14C SA102-3 *"}}},
{"data":{"values":[{}]},"mark":{"type":"rect","fill":"white"},"encoding":{"x":{"datum":1275.7,"axis":null},"x2":{"datum":1300},"y":{"datum":-54.3,"axis":null},"y2":{"datum":539.3}}},
{"data":{"values":[{}]},"mark":{"type":"rect","fill":"white"},"encoding":{"x":{"datum":2335,"axis":null},"x2":{"datum":2348.2},"y":{"datum":-54.3,"axis":null},"y2":{"datum":539.3}}},
{"data":{"values":[{}]},"mark":{"type":"rect","fill":"white"},"encoding":{"x":{"datum":1275.7,"axis":null},"x2":{"datum":2348.2},"y":{"datum":-54.3,"axis":null},"y2":{"datum":-47.85}}},
{"data":{"values":[{}]},"mark":{"type":"rect","fill":"white"},"encoding":{"x":{"datum":1275.7,"axis":null},"x2":{"datum":2348.2},"y":{"datum":531.2,"axis":null},"y2":{"datum":539.3}}},
{"data":{"values":[{}]},"mark":{"type":"rect","fill":"transparent","stroke":"#8a8a8a","strokeWidth":1,"cornerRadius":8},"encoding":{"x":{"datum":1300,"axis":null},"x2":{"datum":2335},"y":{"datum":-47.85,"axis":null},"y2":{"datum":531.2}}},
{"data":{"values":[{}]},"mark":{"type":"rect","fill":"transparent","stroke":"#111111","strokeWidth":1.5},"encoding":{"x":{"datum":1275.7,"axis":null},"x2":{"datum":2348.2},"y":{"datum":-54.3,"axis":null},"y2":{"datum":539.3}}},
{"data":{"values":[{}]},"mark":{"type":"rect","fill":"white","stroke":"#555555","strokeWidth":1},"encoding":{"x":{"datum":2043.9,"axis":null},"x2":{"datum":2337.6},"y":{"datum":185.7,"axis":null},"y2":{"datum":520.7}}}
],
"resolve":{"axis":{"x":"independent","y":"independent"}}
},
{
"layer":[
{"data":{"name":"pb"},"transform":[{"filter":"isValid(datum.age)"}],
 "encoding":{"x":{"field":"age","type":"quantitative","scale":{"domain":[1926,2022],"range":[459,539],"nice":false,"zero":false},"axis":{"orient":"top","offset":-341.7,"values":[1930,1960,1990,2015],"format":"d","tickSize":4,"labelFontSize":9.5,"labelPadding":2,"title":"(date, year)","titleFontSize":12,"titlePadding":4,"grid":false,"zindex":1}},
  "y":{"field":"d","type":"quantitative","scale":{"domain":[-1.3,266.9],"range":[341.7,662.3],"nice":false,"zero":false},"axis":{"orient":"left","offset":-459,"values":[0,20,40,60,80,100,120,140,160,180,200,220,240,260],"format":"d","tickSize":4,"labelFontSize":10,"labelPadding":2,"title":"depth (cm)","titleFontSize":12,"titleAngle":270,"titleX":-38,"titleY":490,"titleBaseline":"middle","titleAlign":"center","grid":false,"zindex":1}}},
 "layer":[{"mark":{"type":"line","color":"#1a1a1a","strokeWidth":1},"encoding":{"order":{"field":"d","type":"quantitative"}}},{"mark":{"type":"point","filled":true,"color":"#2a2a2a","size":26,"opacity":1}}]},
{"layer":[
 {"data":{"name":"pb"},
  "encoding":{"x":{"field":"act","type":"quantitative","scale":{"domain":[-1.7,20.3],"range":[459,539],"nice":false,"zero":false},"axis":{"orient":"bottom","offset":-69.7,"values":[0,4,8,12,16,20],"format":"d","tickSize":4,"labelFontSize":10,"labelPadding":2,"title":"(Bq/kg)","titleFontSize":12,"titlePadding":3,"grid":false,"zindex":1}},
   "y":{"field":"d","type":"quantitative","scale":{"domain":[-1.3,266.9],"range":[341.7,662.3],"nice":false,"zero":false},"axis":{"orient":"left","offset":-459,"values":[10,30,50,70,90,110,130,150,170,190,210,230,250],"tickSize":2.5,"labels":false,"domain":false,"title":null,"grid":false,"zindex":1}}},
  "layer":[{"mark":{"type":"line","color":"#1a1a1a","strokeWidth":1},"encoding":{"order":{"field":"d","type":"quantitative"}}},{"mark":{"type":"square","filled":true,"color":"#0a46ff","size":30,"opacity":1}}]},
 {"data":{"values":[{}]},"mark":{"type":"rule","color":"#1a1a1a","strokeWidth":1},"encoding":{"x":{"datum":4.9,"axis":null},"x2":{"datum":7.9},"y":{"datum":235,"axis":null}}},
 {"data":{"values":[{}]},"mark":{"type":"point","shape":"circle","filled":true,"color":"#2a2a2a","size":30,"opacity":1},"encoding":{"x":{"datum":6.5,"axis":null},"y":{"datum":235,"axis":null}}},
 {"data":{"values":[{}]},"mark":{"type":"text","align":"left","font":"Liberation Serif","fontSize":11,"color":"#111111"},"encoding":{"x":{"datum":9.2,"axis":null},"y":{"datum":235,"axis":null},"text":{"value":"²¹⁰Pb age"}}},
 {"data":{"values":[{}]},"mark":{"type":"rule","color":"#1a1a1a","strokeWidth":1},"encoding":{"x":{"datum":4.3,"axis":null},"x2":{"datum":8.1},"y":{"datum":252.5,"axis":null}}},
 {"data":{"values":[{}]},"mark":{"type":"square","filled":true,"color":"#0a46ff","size":34,"opacity":1},"encoding":{"x":{"datum":6.2,"axis":null},"y":{"datum":252.5,"axis":null}}},
 {"data":{"values":[{}]},"mark":{"type":"text","align":"left","font":"Liberation Serif","fontSize":11,"color":"#111111"},"encoding":{"x":{"datum":8.8,"axis":null},"y":{"datum":247.5,"axis":null},"text":{"value":"Unsupported"}}},
 {"data":{"values":[{}]},"mark":{"type":"text","align":"left","font":"Liberation Serif","fontSize":11,"color":"#111111"},"encoding":{"x":{"datum":9.0,"axis":null},"y":{"datum":259.2,"axis":null},"text":{"value":"²¹⁰Pb activity"}}}
]}
],
"resolve":{"scale":{"x":"independent"},"axis":{"x":"independent","y":"independent"}}
}
],
"resolve":{"scale":{"x":"independent","y":"independent"},"axis":{"x":"independent","y":"independent"}},
"config":{
"view":{"stroke":null},
"axis":{"labelFont":"Liberation Serif","titleFont":"Liberation Serif","labelColor":"#000000","titleColor":"#000000","tickColor":"#000000","domainColor":"#000000","titleFontWeight":"normal","labelFlush":false,"labelOverlap":false,"grid":false},
"text":{"font":"Liberation Serif"}
}
}
